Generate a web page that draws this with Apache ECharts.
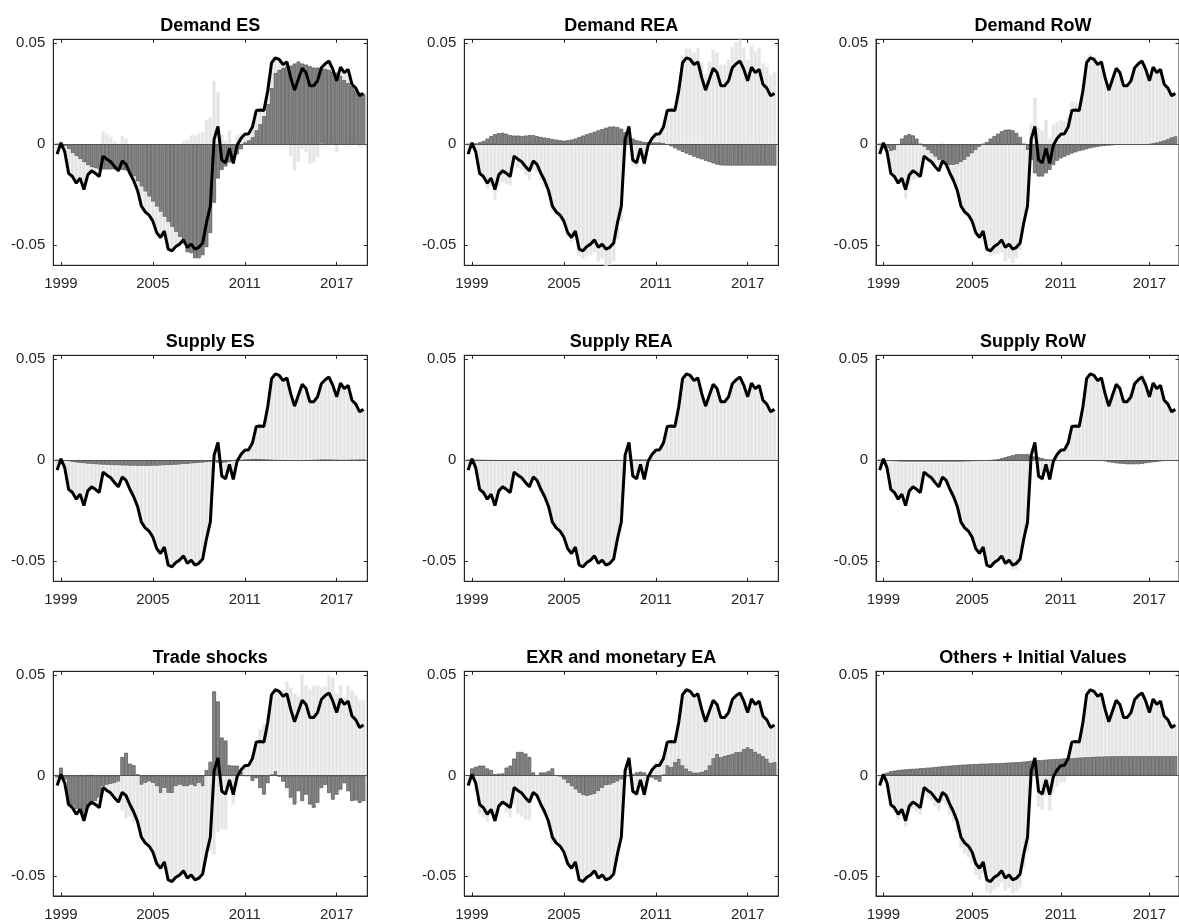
<!DOCTYPE html>
<html><head><meta charset="utf-8">
<script src="https://cdn.jsdelivr.net/npm/echarts@6/dist/echarts.min.js"></script>
<style>html,body{margin:0;padding:0;background:#fff}#c{width:1179px;height:922px}</style>
</head><body><div id="c"></div>
<script>
// ---- time axis: quarterly observations 1998Q4 .. 2018Q4 ----
const firstYear = 1998, firstQuarter = 4, nQuarters = 81;
const quarterTimes = [];
for (let i = 0; i < nQuarters; i++) { const q = firstQuarter - 1 + i; quarterTimes.push(firstYear + Math.floor(q / 4) + (q % 4) / 4); }

const xTicks = [1999, 2005, 2011, 2017];
const yTicks = [-0.05, 0, 0.05];

const panelTitles = ['Demand ES', 'Demand REA', 'Demand RoW', 'Supply ES', 'Supply REA', 'Supply RoW',
  'Trade shocks', 'EXR and monetary EA', 'Others + Initial Values'];

// observed series (black line), same in every panel
const total = [
-0.0049, 0.0007, -0.0038, -0.0144, -0.016, -0.0193, -0.0168, -0.0225, -0.0152, -0.0132,
-0.0144, -0.016, -0.0059, -0.0074, -0.0087, -0.0111, -0.0132, -0.0083, -0.0100, -0.0144,
-0.0181, -0.0229, -0.0307, -0.0335, -0.0351, -0.0381, -0.0438, -0.0462, -0.043, -0.052,
-0.0528, -0.0507, -0.0495, -0.0474, -0.0511, -0.0495, -0.052, -0.0511, -0.049, -0.0389,
-0.0307, 0.0025, 0.0088, -0.0078, -0.0092, -0.0021, -0.0095, -0.0005, 0.0028, 0.0049,
0.0052, 0.0085, 0.0167, 0.017, 0.0167, 0.0265, 0.0404, 0.0428, 0.042, 0.0395,
0.0408, 0.033, 0.0268, 0.0322, 0.0376, 0.0355, 0.029, 0.029, 0.0314, 0.0379,
0.0399, 0.0412, 0.0371, 0.0314, 0.0382, 0.0355, 0.0371, 0.0297, 0.0278, 0.024,
0.0252];

// contribution of each shock group (dark bars)
const demandES = [
0, 0, -0.001, -0.0025, -0.0045, -0.006, -0.0075, -0.009, -0.0105, -0.0115,
-0.012, -0.0125, -0.0125, -0.0125, -0.0125, -0.0125, -0.0125, -0.0127, -0.013, -0.0145,
-0.016, -0.0185, -0.021, -0.0235, -0.026, -0.0285, -0.031, -0.0335, -0.036, -0.0385,
-0.041, -0.0435, -0.046, -0.049, -0.0535, -0.054, -0.0565, -0.0565, -0.055, -0.051,
-0.044, -0.029, -0.017, -0.0127, -0.011, -0.009, -0.007, -0.005, -0.0025, 0.001,
0.002, 0.0036, 0.007, 0.010, 0.014, 0.020, 0.028, 0.0355, 0.037, 0.038,
0.0387, 0.039, 0.040, 0.041, 0.040, 0.0395, 0.0387, 0.038, 0.038, 0.038,
0.0375, 0.037, 0.036, 0.0355, 0.034, 0.032, 0.0305, 0.029, 0.027, 0.0256,
0.025];
const demandREA = [
0, 0, 0.0003, 0.001, 0.0016, 0.0028, 0.004, 0.005, 0.0055, 0.0057,
0.0052, 0.0045, 0.0043, 0.0043, 0.0041, 0.0043, 0.0045, 0.0045, 0.004, 0.0036,
0.0033, 0.003, 0.0026, 0.0023, 0.002, 0.0018, 0.002, 0.0023, 0.0028, 0.0036,
0.0043, 0.005, 0.0056, 0.0062, 0.0069, 0.0075, 0.0082, 0.0087, 0.0088, 0.0085,
0.0077, 0.006, 0.0044, 0.0028, 0.002, 0.0015, 0.0011, 0.001, 0.001, 0.001,
0.001, 0.0007, 0, -0.001, -0.002, -0.003, -0.0038, -0.0046, -0.0054, -0.0062,
-0.0069, -0.0075, -0.0082, -0.0088, -0.0095, -0.0101, -0.0105, -0.0106, -0.0106, -0.0106,
-0.0106, -0.0106, -0.0106, -0.0106, -0.0106, -0.0106, -0.0106, -0.0106, -0.0106, -0.0106,
-0.0106];
const demandRoW = [
0, 0, -0.002, -0.0035, -0.003, -0.0005, 0.0028, 0.0044, 0.005, 0.0044,
0.0028, 0, -0.0013, -0.003, -0.0046, -0.0062, -0.0078, -0.009, -0.0098, -0.0103,
-0.0103, -0.01, -0.009, -0.0078, -0.0062, -0.0046, -0.003, -0.0013, 0, 0.0011,
0.0028, 0.004, 0.0052, 0.0064, 0.0072, 0.0073, 0.0069, 0.0056, 0.0036, 0,
-0.003, -0.0078, -0.0144, -0.016, -0.016, -0.0144, -0.0127, -0.0103, -0.0082, -0.007,
-0.0062, -0.0054, -0.0046, -0.004, -0.0034, -0.003, -0.0025, -0.002, -0.0016, -0.0013,
-0.001, -0.0008, -0.0007, -0.0005, -0.0003, -0.0002, -0.0002, -0.0002, -0.0002, -0.0002,
-0.0002, -0.0001, 0, 0.0003, 0.0006, 0.001, 0.0015, 0.002, 0.0028, 0.0035,
0.004];
const supplyES = [
0, 0, -0.0003, -0.0006, -0.0009, -0.0012, -0.0014, -0.0016, -0.0018, -0.002,
-0.0021, -0.0022, -0.0023, -0.0024, -0.0025, -0.0026, -0.0026, -0.0027, -0.0027, -0.0028,
-0.0028, -0.0029, -0.0029, -0.0029, -0.0029, -0.0028, -0.0028, -0.0027, -0.0026, -0.0025,
-0.0024, -0.0023, -0.0022, -0.002, -0.0019, -0.0017, -0.0016, -0.0014, -0.0013, -0.0011,
-0.0009, -0.0005, -0.0012, -0.0015, -0.0012, -0.0008, -0.0005, 0, 0.0003, 0.0005,
0.0006, 0.0008, 0.0008, 0.0007, 0.0006, 0.0005, 0.0004, 0.0003, 0.0002, 0.0001,
0, -0.0001, -0.0002, -0.0002, -0.0001, 0, 0.0002, 0.0003, 0.0004, 0.0005,
0.0005, 0.0005, 0.0004, 0.0004, 0.0003, 0.0003, 0.0003, 0.0004, 0.0004, 0.0005,
0.0005];
const supplyREA = [
0, 0, 0, -0.0001, -0.0001, -0.0002, -0.0002, -0.0002, -0.0003, -0.0003,
-0.0003, -0.0003, -0.0003, -0.0003, -0.0003, -0.0003, -0.0003, -0.0003, -0.0003, -0.0003,
-0.0003, -0.0003, -0.0004, -0.0004, -0.0004, -0.0004, -0.0004, -0.0004, -0.0004, -0.0004,
-0.0004, -0.0004, -0.0004, -0.0004, -0.0004, -0.0003, -0.0003, -0.0003, -0.0003, -0.0002,
-0.0002, -0.0001, 0, 0.0001, 0.0002, 0.0002, 0.0002, 0.0002, 0.0002, 0.0002,
0.0002, 0.0002, 0.0002, 0.0002, 0.0002, 0.0002, 0.0002, 0.0002, 0.0002, 0.0002,
0.0002, 0.0002, 0.0002, 0.0002, 0.0002, 0.0002, 0.0002, 0.0002, 0.0002, 0.0002,
0.0002, 0.0002, 0.0002, 0.0002, 0.0002, 0.0002, 0.0002, 0.0002, 0.0002, 0.0002,
0.0002];
const supplyRoW = [
0, 0, -0.0003, -0.0005, -0.0006, -0.0007, -0.0008, -0.0008, -0.0008, -0.0008,
-0.0008, -0.0008, -0.0008, -0.0008, -0.0008, -0.0008, -0.0008, -0.0008, -0.0008, -0.0008,
-0.0008, -0.0008, -0.0008, -0.0007, -0.0007, -0.0006, -0.0006, -0.0005, -0.0004, -0.0003,
-0.0002, 0, 0.0005, 0.001, 0.0015, 0.002, 0.0025, 0.003, 0.003, 0.003,
0.003, 0.0025, 0.002, 0.0015, 0.001, 0.0005, 0.0002, 0, 0, 0,
0, 0, 0, 0, 0, 0, 0, 0, 0, 0,
0, -0.0005, -0.001, -0.0012, -0.0015, -0.0017, -0.0018, -0.002, -0.002, -0.002,
-0.002, -0.0018, -0.0015, -0.0012, -0.001, -0.0008, -0.0005, -0.0003, -0.0002, -0.0001,
0];
const tradeShocks = [
-0.001, 0.004, -0.002, -0.0144, -0.015, -0.0168, -0.0176, -0.0217, -0.016, -0.0144,
-0.0127, -0.011, -0.0054, -0.0046, -0.0042, -0.0038, -0.003, 0.0093, 0.0114, 0.006,
0.0052, 0.0007, -0.0046, -0.0038, -0.003, -0.0038, -0.0054, -0.0087, -0.0062, -0.0087,
-0.0087, -0.0054, -0.0046, -0.0054, -0.0054, -0.0046, -0.0054, -0.0038, -0.0054, 0.0028,
0.0069, 0.042, 0.037, 0.019, 0.0175, 0.0052, 0.005, 0.005, 0.002, 0,
0, -0.0026, -0.0013, -0.0062, -0.0095, -0.0038, 0.0007, 0.0023, -0.0005, -0.003,
-0.0062, -0.011, -0.0144, -0.0078, -0.0127, -0.0095, -0.0144, -0.016, -0.0136, -0.0062,
-0.0046, -0.0087, -0.012, -0.0095, -0.007, -0.0038, -0.0078, -0.0127, -0.0124, -0.0136,
-0.0127];
const exrMonetaryEA = [
0, 0.0036, 0.0044, 0.005, 0.005, 0.0036, 0.0028, 0.0007, 0.001, 0.0011,
0.004, 0.005, 0.0085, 0.0118, 0.0118, 0.011, 0.0093, 0.0016, 0, 0.0016,
0.0016, 0.0023, 0.0036, 0, -0.0005, -0.002, -0.0038, -0.0054, -0.007, -0.0087,
-0.0098, -0.0103, -0.0098, -0.0092, -0.0078, -0.0062, -0.0049, -0.0046, -0.0038, -0.003,
-0.002, -0.0005, 0, 0.0007, 0.0016, 0.002, 0.0016, 0, -0.001, -0.002,
-0.003, 0.0007, 0.0052, 0.0044, 0.0069, 0.0085, 0.0052, 0.0036, 0.0023, 0.0016,
0.0016, 0.002, 0.0028, 0.0052, 0.0088, 0.011, 0.0093, 0.010, 0.0105, 0.011,
0.0118, 0.012, 0.0134, 0.0142, 0.0134, 0.012, 0.011, 0.0098, 0.0085, 0.0065,
0.0069];
const othersInitial = [
0, 0.0005, 0.0015, 0.0022, 0.0025, 0.0028, 0.003, 0.0031, 0.0033, 0.0034,
0.0035, 0.0037, 0.0038, 0.004, 0.0041, 0.0043, 0.0045, 0.0047, 0.0048, 0.005,
0.0051, 0.0053, 0.0054, 0.0055, 0.0056, 0.0057, 0.0058, 0.0059, 0.006, 0.006,
0.0061, 0.0062, 0.0062, 0.0063, 0.0064, 0.0065, 0.0066, 0.0067, 0.0068, 0.007,
0.0072, 0.0074, 0.0076, 0.0077, 0.0078, 0.008, 0.0081, 0.0082, 0.0083, 0.0084,
0.0086, 0.0087, 0.0088, 0.009, 0.0091, 0.0092, 0.0093, 0.0094, 0.0095, 0.0096,
0.0096, 0.0097, 0.0097, 0.0098, 0.0098, 0.0098, 0.0099, 0.0099, 0.0099, 0.0099,
0.0099, 0.0099, 0.0099, 0.0099, 0.0099, 0.0099, 0.0099, 0.0099, 0.0099, 0.0099,
0.0099];

const panelShocks = [demandES, demandREA, demandRoW, supplyES, supplyREA, supplyRoW, tradeShocks, exrMonetaryEA, othersInitial];

// ---- layout / style ----
const colLeft = [53.3, 464.3, 876], rowTop = [39.3, 355.3, 671.3], plotW = 314, plotH = 226;
const axisColor = '#262626', labelColor = '#262626';
const darkColor = '#858585', darkEdge = '#5c5c5c', lightColor = '#e4e4e4', lightEdge = '#efefef';
const fontFam = '"Liberation Sans", Arial, Helvetica, sans-serif';
const barW = 3.8;

const grids = [], xAxes = [], yAxes = [], series = [], titles = [];
panelShocks.forEach((shock, p) => {
  const r = Math.floor(p / 3), c = p % 3;
  grids.push({ left: colLeft[c], top: rowTop[r], width: plotW, height: plotH, show: true,
    borderColor: axisColor, borderWidth: 1, backgroundColor: 'transparent' });
  titles.push({ text: panelTitles[p], left: colLeft[c] + plotW / 2, top: rowTop[r] - 22, textAlign: 'center', padding: 0,
    textStyle: { fontFamily: fontFam, fontSize: 18, fontWeight: 'bold', color: '#000' } });
  const xBase = { gridIndex: p, type: 'value', min: 1998.5, max: 2019, splitLine: { show: false },
    axisLine: { show: true, onZero: false, lineStyle: { color: axisColor, width: 1 } },
    axisTick: { show: true, inside: true, length: 3.5, customValues: xTicks, lineStyle: { color: axisColor } } };
  xAxes.push(Object.assign({}, xBase, { position: 'bottom',
    axisLabel: { show: true, customValues: xTicks, formatter: v => String(v), color: labelColor,
      fontFamily: fontFam, fontSize: 15, margin: 11 } }));
  xAxes.push(Object.assign({}, xBase, { position: 'top', axisLabel: { show: false } }));
  const yBase = { gridIndex: p, type: 'value', min: -0.06, max: 0.052, splitLine: { show: false },
    axisLine: { show: true, onZero: false, lineStyle: { color: axisColor, width: 1 } },
    axisTick: { show: true, inside: true, length: 3.5, customValues: yTicks, lineStyle: { color: axisColor } } };
  yAxes.push(Object.assign({}, yBase, { position: 'left',
    axisLabel: { show: true, customValues: yTicks, formatter: v => (v === 0 ? '0' : v.toFixed(2)), color: labelColor,
      fontFamily: fontFam, fontSize: 15, margin: 8 } }));
  yAxes.push(Object.assign({}, yBase, { position: 'right', axisLabel: { show: false } }));

  // remaining shocks = observed minus this group's contribution (light bars)
  const rest = total.map((v, i) => +(v - shock[i]).toFixed(5));
  // value placed first so that ECharts stacks the y dimension (samesign stacking)
  series.push({ type: 'bar', xAxisIndex: 2 * p, yAxisIndex: 2 * p, stack: 'st' + p, barWidth: barW,
    encode: { x: 1, y: 0 }, data: quarterTimes.map((t, i) => [shock[i], t]),
    itemStyle: { color: darkColor, borderColor: darkEdge, borderWidth: 0.8 }, silent: true, z: 2 });
  series.push({ type: 'bar', xAxisIndex: 2 * p, yAxisIndex: 2 * p, stack: 'st' + p, barWidth: barW,
    encode: { x: 1, y: 0 }, data: quarterTimes.map((t, i) => [rest[i], t]),
    itemStyle: { color: lightColor, borderColor: lightEdge, borderWidth: 0.8 }, silent: true, z: 2 });
  series.push({ type: 'line', xAxisIndex: 2 * p, yAxisIndex: 2 * p, symbol: 'none', silent: true, z: 5,
    data: quarterTimes.map((t, i) => [t, total[i]]),
    lineStyle: { color: '#000', width: 3 },
    markLine: { silent: true, symbol: 'none', label: { show: false }, z: 3,
      lineStyle: { color: '#555', width: 1, type: 'solid' }, data: [{ yAxis: 0 }] } });
});

const chart = echarts.init(document.getElementById('c'), null, { renderer: 'canvas' });
chart.setOption({ animation: false, backgroundColor: '#fff', title: titles, grid: grids, xAxis: xAxes, yAxis: yAxes, series });
</script></body></html>
